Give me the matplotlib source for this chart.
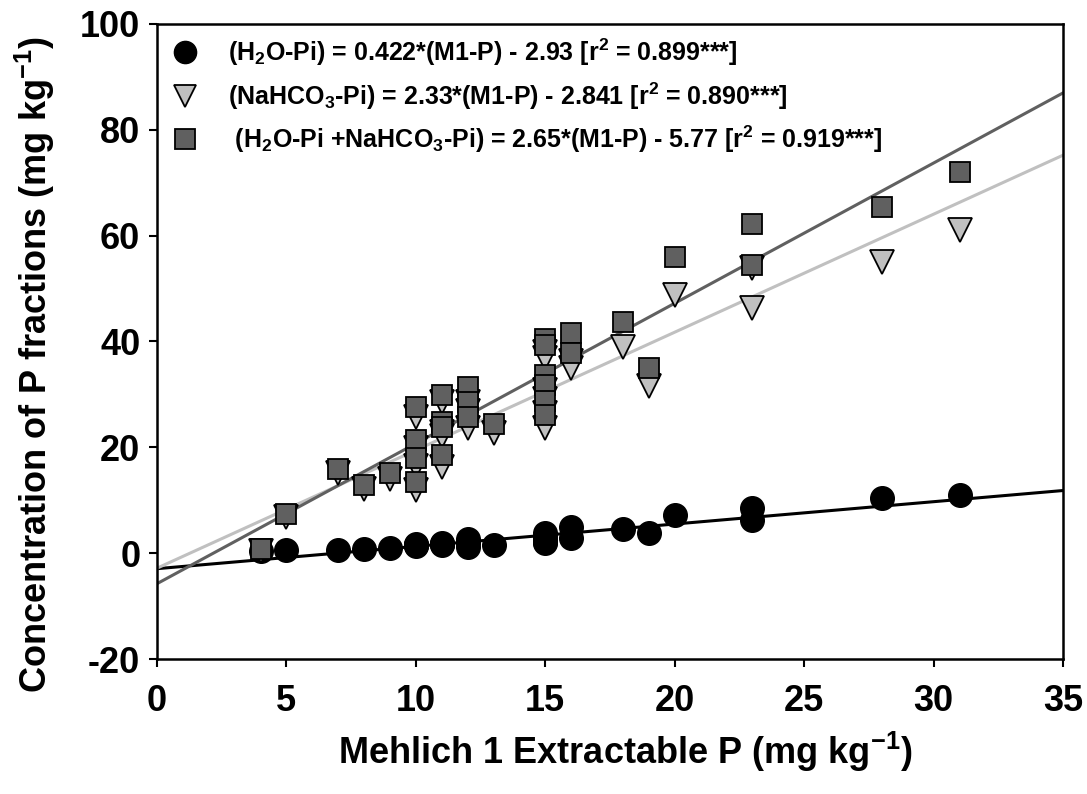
import numpy as np
import matplotlib
matplotlib.use("Agg")
from matplotlib import pyplot as plt
from matplotlib.lines import Line2D

# Mehlich 1 P for each soil sample (mg/kg)
m1p = [4, 5, 7, 8, 9, 10, 10, 10, 10, 11, 11, 11, 11, 12, 12, 12, 13,
       15, 15, 15, 15, 15, 15, 16, 16, 18, 19, 20, 23, 23, 28, 31]
# H2O-Pi
h2o_pi = [0.4, 0.6, 0.6, 0.7, 1.0, 1.3, 1.6, 1.5, 1.7, 1.7, 2.0, 1.8, 1.6,
          2.7, 1.2, 1.9, 1.5, 3.8, 2.2, 3.0, 2.5, 2.0, 3.2, 5.0, 2.8,
          4.5, 3.8, 7.2, 8.5, 6.3, 10.4, 11.0]
# NaHCO3-Pi
nahco3_pi = [0.4, 6.8, 15.2, 12.1, 14.0, 25.8, 19.8, 16.4, 11.9,
             28.5, 22.9, 22.1, 16.3, 28.6, 26.8, 23.6, 22.8,
             38.1, 36.8, 30.8, 29.2, 26.5, 23.6, 36.4, 34.9,
             39.0, 31.5, 48.8, 53.9, 46.3, 55.1, 61.1]
# H2O-Pi + NaHCO3-Pi
total_pi = [0.8, 7.4, 15.9, 12.9, 15.1, 27.7, 21.4, 17.9, 13.5,
            29.9, 24.7, 23.9, 18.6, 31.4, 28.5, 25.7, 24.4,
            40.4, 39.4, 33.7, 31.7, 28.8, 26.1, 41.6, 37.8,
            43.6, 34.9, 56.0, 62.2, 54.5, 65.4, 72.1]

# regression lines as drawn (slope, intercept)
fit_h2o = (0.422, -2.93)
fit_nahco3 = (2.23, -2.84)
fit_total = (2.65, -5.77)

labels = [r"(H$_2$O-Pi) = 0.422*(M1-P) - 2.93 [r$^2$ = 0.899***]",
          r"(NaHCO$_3$-Pi) = 2.33*(M1-P) - 2.841 [r$^2$ = 0.890***]",
          r" (H$_2$O-Pi +NaHCO$_3$-Pi) = 2.65*(M1-P) - 5.77 [r$^2$ = 0.919***]"]

plt.rcParams['font.family'] = ['Liberation Sans', 'DejaVu Sans']
plt.rcParams['font.weight'] = 'bold'
plt.rcParams['mathtext.fontset'] = 'custom'
plt.rcParams['mathtext.rm'] = 'Liberation Sans:bold'
plt.rcParams['mathtext.bf'] = 'Liberation Sans:bold'
plt.rcParams['mathtext.it'] = 'Liberation Sans:bold'
plt.rcParams['mathtext.default'] = 'bf'
plt.rcParams['axes.unicode_minus'] = False

fig = plt.figure(figsize=(10.87, 7.94), dpi=100)
ax = fig.add_axes([0.1444, 0.170, 0.8336, 0.7998])

xs = np.array([0, 35])
ax.plot(xs, fit_h2o[0] * xs + fit_h2o[1], color='black', lw=2.2, zorder=1)
ax.plot(xs, fit_nahco3[0] * xs + fit_nahco3[1], color='#c0c0c0', lw=2.2, zorder=1)
ax.plot(xs, fit_total[0] * xs + fit_total[1], color='#606060', lw=2.2, zorder=1)

ax.plot(m1p, h2o_pi, 'o', ms=17, mfc='black', mec='black', zorder=2)
ax.plot(m1p, nahco3_pi, 'v', ms=17, mfc='#c0c0c0', mec='black', mew=1.3, zorder=3)
ax.plot(m1p, total_pi, 's', ms=14.5, mfc='#606060', mec='black', mew=1.3, zorder=4)

ax.set_xlim(0, 35)
ax.set_ylim(-20, 100)
ax.set_xticks(np.arange(0, 36, 5))
ax.set_yticks(np.arange(-20, 101, 20))
ax.tick_params(direction='out', length=6, width=1.5, labelsize=26, top=False, right=False)
ax.tick_params(axis='x', pad=12)
ax.tick_params(axis='y', pad=6)
for s in ax.spines.values():
    s.set_linewidth(1.8)

ax.set_xlabel(r"Mehlich 1 Extractable P (mg kg$^{-1}$)", fontsize=26, fontweight='bold')
ax.xaxis.set_label_coords(0.517, -0.112)
ax.set_ylabel(r"Concentration of P fractions (mg kg$^{-1}$)", fontsize=26, fontweight='bold')
ax.yaxis.set_label_coords(-0.11, 0.463)

handles = [Line2D([], [], ls='none', marker='o', ms=16, mfc='black', mec='black'),
           Line2D([], [], ls='none', marker='v', ms=16, mfc='#c0c0c0', mec='black', mew=1.3),
           Line2D([], [], ls='none', marker='s', ms=14, mfc='#606060', mec='black', mew=1.3)]
ax.legend(handles, labels, loc='upper left', bbox_to_anchor=(0.0, 1.0), frameon=False,
          prop={'size': 18, 'weight': 'bold'}, handletextpad=1.1, labelspacing=0.49,
          borderaxespad=0.1, handlelength=1.24)

fig.savefig('out.png', dpi=100)
